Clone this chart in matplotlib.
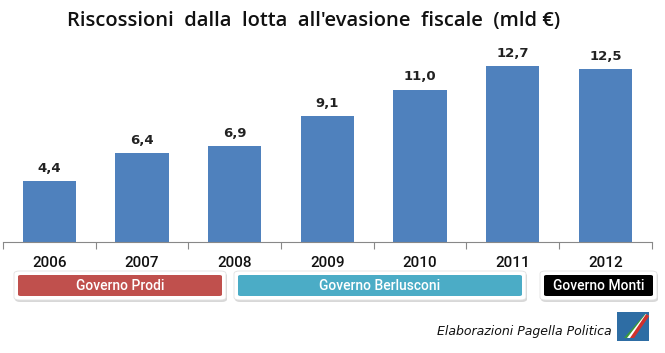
import matplotlib.pyplot as plt
from matplotlib.patches import FancyBboxPatch, Rectangle, Polygon

years = ['2006', '2007', '2008', '2009', '2010', '2011', '2012']
values = [4.4, 6.4, 6.9, 9.1, 11.0, 12.7, 12.5]

# governments: label, colour
govs = ['Governo Prodi', 'Governo Berlusconi', 'Governo Monti']
gov_colors = ['#C0504D', '#4BACC6', '#000000']

fig = plt.figure(figsize=(6.65, 3.53), dpi=100)
ax = fig.add_axes([0.0045, 0.3144, 0.9755, 0.5496])

x = list(range(len(years)))
ax.bar(x, values, width=0.575, color='#4F81BD', zorder=2)
for xi, v in zip(x, values):
    ax.text(xi, v + 0.45, f'{v:.1f}'.replace('.', ','), ha='center', va='bottom',
            fontsize=9.5, fontweight='bold', color='#222222')

ax.set_xlim(-0.5, len(years) - 0.5)
ax.set_ylim(0, 14)
for s in ['top', 'right', 'left']:
    ax.spines[s].set_visible(False)
ax.spines['bottom'].set_color('#888888')
ax.set_yticks([])
ax.set_xticks([i - 0.5 for i in range(len(years) + 1)])
ax.set_xticklabels([])
ax.tick_params(axis='x', direction='out', length=5, color='#888888')
for xi, y in zip(x, years):
    ax.text(xi, -1.5, y, ha='center', va='center', fontsize=11, color='#111111',
            family='Roboto', fontweight='medium')

fig.text(0.472, 0.94, "Riscossioni  dalla  lotta  all'evasione  fiscale  (mld \u20ac)",
         ha='center', va='center', fontsize=14.5, color='#111111',
         family='Open Sans', fontweight='semibold')

# government boxes (pixel coordinates converted to figure fraction)
W, H = 665.0, 353.0
boxes_px = [(14, 226), (234, 526), (540, 657)]
for (x0, x1), label, col in zip(boxes_px, govs, gov_colors):
    y0, y1 = 271, 300
    shadow = FancyBboxPatch(((x0 + 1) / W, 1 - (y1 + 2) / H), (x1 - x0) / W,
                            (y1 - y0) / H,
                            boxstyle='round,pad=0,rounding_size=0.008',
                            transform=fig.transFigure, facecolor='#d8d8d8',
                            edgecolor='none')
    fig.patches.append(shadow)
    outer = FancyBboxPatch((x0 / W, 1 - y1 / H), (x1 - x0) / W, (y1 - y0) / H,
                           boxstyle='round,pad=0,rounding_size=0.008',
                           transform=fig.transFigure, facecolor='white',
                           edgecolor='#e0e0e0', lw=0.6)
    fig.patches.append(outer)
    inner = FancyBboxPatch(((x0 + 4) / W, 1 - (y1 - 4) / H), (x1 - x0 - 8) / W,
                           (y1 - y0 - 8) / H,
                           boxstyle='round,pad=0,rounding_size=0.004',
                           transform=fig.transFigure, facecolor=col,
                           edgecolor='none')
    fig.patches.append(inner)
    fig.text((x0 + x1) / 2 / W, 1 - (y0 + y1) / 2 / H, label, ha='center',
             va='center', fontsize=10, color='white', family='Roboto',
             fontweight='medium')

fig.text(612 / W, 1 - 331 / H, 'Elaborazioni Pagella Politica', ha='right',
         va='center', fontsize=9, style='italic', color='#111111')

# small logo
fig.patches.append(Rectangle((617 / W, 1 - 341 / H), 32 / W, 29 / H,
                             transform=fig.transFigure, facecolor='#2E6DA4',
                             edgecolor='none'))
for dx, c in [(0, '#3a9a3a'), (3, 'white'), (6, '#d0312d')]:
    fig.patches.append(Polygon([((624 + dx) / W, 1 - 338 / H),
                                ((628 + dx) / W, 1 - 338 / H),
                                ((648 + dx * 0.2) / W, 1 - 316 / H),
                                ((645 + dx * 0.2) / W, 1 - 314 / H)],
                               closed=True, transform=fig.transFigure,
                               facecolor=c, edgecolor='none'))

fig.savefig('out.png', dpi=100)
